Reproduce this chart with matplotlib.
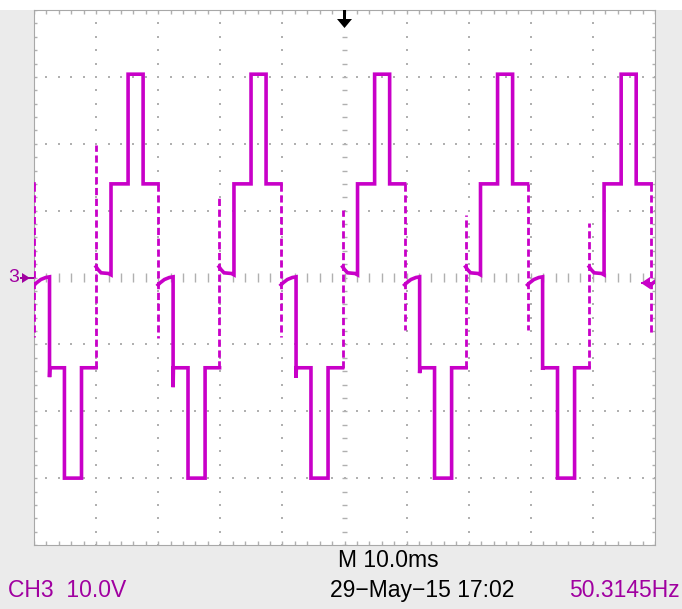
import numpy as np
import matplotlib.pyplot as plt
from matplotlib.patches import Rectangle, Polygon

#==========================================================
# trace data (time in ms, level in V)
#==========================================================
cycle_t0_ms = [-9.9, 10.0, 29.8, 49.7, 69.5, 89.4]
pos_spike_v = [None, 19.8, 11.9, 10.1, 9.3, 8.1]
neg_spike_v = [-8.9, -9.0, -8.9, -7.8, -7.8, -8.3]
undershoot_v = [-14.9, -16.4, -15.0, -14.3, -13.8, -13.8]

# levels of the staircase
lvl_top = 30.4
lvl_1 = 14.0
lvl_m1 = -13.5
lvl_bot = -30.0

# edge times inside one period (ms from the rising zero edge)
t_l1_up = 2.4
t_top_up = 5.15
t_top_dn = 7.57
t_half = 9.98
t_m1_dn = 12.4
t_bot_dn = 14.8
t_bot_up = 17.55
t_period = 19.88

# near-zero shelves (ringing after the fast edges)
pz_t = [0.0, 0.3, 0.8, 2.0, 2.4]
pz_v = [1.6, 1.2, 0.7, 0.6, 0.4]
nz_t = [9.98, 10.3, 11.0, 11.8, 12.4]
nz_v = [-1.1, -0.8, -0.3, 0.0, 0.1]

# screen read-outs
txt_timebase = "M 10.0ms"
txt_channel = "CH3  10.0V"
txt_date = "29\u2212May\u221215 17:02"
txt_freq = "50.3145Hz"

W, H = 682, 609
TRACE = "#c800c8"
TXT_MAG = "#a000a0"
GRID = "#b0b0b0"

def px(x, y):
    return (x / W, 1.0 - y / H)

plt.rcParams['font.family'] = ['Liberation Sans', 'DejaVu Sans']

fig = plt.figure(figsize=(W / 100, H / 100), dpi=100, facecolor="white")
fig.patches.append(Rectangle((0, 0), 1, 1 - 10 / H, transform=fig.transFigure,
                             facecolor="#ebebeb", edgecolor="none", zorder=-5))

x0, y0 = px(34, 545)
x1, y1 = px(655, 10)
ax = fig.add_axes([x0, y0, x1 - x0, y1 - y0])
ax.set_facecolor("white")
ax.set_xlim(0, 100)
ax.set_ylim(-40, 40)
ax.set_xticks([])
ax.set_yticks([])
for s in ax.spines.values():
    s.set_color("#a8a8a8")
    s.set_linewidth(0.8)

#----------------------------------------------------------
# graticule
#----------------------------------------------------------
minor_x = np.arange(0, 100.01, 2)
minor_y = np.arange(-40, 40.01, 2)
for xv in [10, 20, 30, 40, 60, 70, 80, 90]:
    ax.scatter(np.full(minor_y.size, xv), minor_y, s=2.2, marker="s",
               color=GRID, linewidths=0, zorder=1)
for yv in [-30, -20, -10, 10, 20, 30]:
    ax.scatter(minor_x, np.full(minor_x.size, yv), s=2.2, marker="s",
               color=GRID, linewidths=0, zorder=1)
# center cross ticks
ax.vlines(minor_x, -0.6, 0.6, color=GRID, lw=1.0, zorder=1)
ax.hlines(minor_y, 50 - 0.45, 50 + 0.45, color=GRID, lw=1.0, zorder=1)
# border ticks
ax.vlines(minor_x, -40, -39.4, color=GRID, lw=1.0, zorder=1)
ax.vlines(minor_x, 39.4, 40, color=GRID, lw=1.0, zorder=1)
ax.hlines(minor_y, 0, 0.55, color=GRID, lw=1.0, zorder=1)
ax.hlines(minor_y, 99.45, 100, color=GRID, lw=1.0, zorder=1)

#----------------------------------------------------------
# trace
#----------------------------------------------------------
for i, t0 in enumerate(cycle_t0_ms):
    # positive half
    tp = [t0 + t for t in pz_t] + [t0 + t_l1_up, t0 + t_top_up, t0 + t_top_up,
                                   t0 + t_top_dn, t0 + t_top_dn, t0 + t_half]
    vp = pz_v + [lvl_1, lvl_1, lvl_top, lvl_top, lvl_1, lvl_1]
    ax.plot(tp, vp, color=TRACE, lw=2.6, solid_joinstyle="miter", zorder=3)
    # negative half
    tn = [t0 + t for t in nz_t] + [t0 + t_m1_dn, t0 + t_m1_dn + 0.05, t0 + t_bot_dn,
                                   t0 + t_bot_dn, t0 + t_bot_up, t0 + t_bot_up,
                                   t0 + t_period]
    vn = nz_v + [undershoot_v[i], lvl_m1, lvl_m1, lvl_bot, lvl_bot, lvl_m1, lvl_m1]
    ax.plot(tn, vn, color=TRACE, lw=2.6, solid_joinstyle="miter", zorder=3)
    # fast edges, drawn broken like on the screen
    if pos_spike_v[i] is not None:
        ax.plot([t0, t0], [lvl_m1, pos_spike_v[i]], color=TRACE, lw=2.0,
                linestyle=(0, (2.6, 1.3)), zorder=3)
    ax.plot([t0 + t_half, t0 + t_half], [lvl_1, neg_spike_v[i]], color=TRACE,
            lw=2.0, linestyle=(0, (2.6, 1.3)), zorder=3)

#----------------------------------------------------------
# markers
#----------------------------------------------------------
# trigger position arrow (top)
fig.patches.append(Rectangle(px(343.3, 19), 2.6 / W, 9 / H, transform=fig.transFigure,
                             facecolor="black", edgecolor="none", zorder=5))
fig.patches.append(Polygon([px(337, 19), px(352, 19), px(344.5, 28)], closed=True,
                           transform=fig.transFigure, facecolor="black",
                           edgecolor="none", zorder=5))
# channel ground marker (left)
fig.text(*px(8, 278), "3", color=TXT_MAG, fontsize=14, ha="left", va="center")
fig.patches.append(Polygon([px(22, 273), px(22, 283), px(30, 278)], closed=True,
                           transform=fig.transFigure, facecolor=TXT_MAG,
                           edgecolor="none", zorder=5))
fig.patches.append(Rectangle(px(20, 279), 14 / W, 2 / H, transform=fig.transFigure,
                             facecolor=TXT_MAG, edgecolor="none", zorder=5))
# trigger level marker (right)
fig.patches.append(Polygon([px(650, 277), px(650, 289), px(641, 283)], closed=True,
                           transform=fig.transFigure, facecolor=TRACE,
                           edgecolor="none", zorder=5))
fig.patches.append(Rectangle(px(641, 284), 14 / W, 2 / H, transform=fig.transFigure,
                             facecolor=TRACE, edgecolor="none", zorder=5))

#----------------------------------------------------------
# read-outs
#----------------------------------------------------------
fs = 16.5
fig.text(*px(338, 567), txt_timebase, color="black", fontsize=fs, ha="left", va="baseline")
fig.text(*px(8, 597), txt_channel, color=TXT_MAG, fontsize=fs, ha="left", va="baseline")
fig.text(*px(330, 597), txt_date, color="black", fontsize=fs, ha="left", va="baseline")
fig.text(*px(680, 597), txt_freq, color=TXT_MAG, fontsize=fs, ha="right", va="baseline")

fig.savefig("out.png", dpi=100, facecolor=fig.get_facecolor())
